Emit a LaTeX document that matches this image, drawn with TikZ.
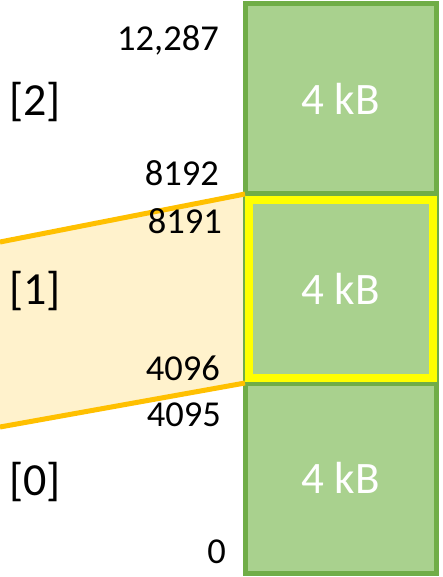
\documentclass[tikz,border=0pt]{standalone}
\usepackage{fontspec}
\setmainfont{Carlito}
\definecolor{gfill}{HTML}{A9D18E}
\definecolor{gline}{HTML}{70AD47}
\definecolor{ofill}{HTML}{FFF2CC}
\definecolor{oline}{HTML}{FFC000}
\definecolor{yline}{HTML}{FFFF00}
\begin{document}
\begin{tikzpicture}[x=1pt,y=-1pt,
  page/.style={draw=gline,fill=gfill,line width=5pt,minimum width=191pt,minimum height=190pt,inner sep=0pt,
    text=white,font=\fontsize{45}{54}\selectfont},
  addr/.style={anchor=east,inner sep=0pt,font=\fontsize{36.5}{44}\selectfont},
  idx/.style={inner sep=0pt,font=\fontsize{46}{55}\selectfont}]
\useasboundingbox (0,0) rectangle (442,577);
% mapped region
\coordinate (tl) at (0,242);
\coordinate (bl) at (0,427);
\coordinate (tr) at (245,194);
\coordinate (br) at (245,383);
\fill[ofill] (tl) -- (tr) -- (br) -- (bl) -- cycle;
% pages
\node[page] (p2) at (340.5,99) {4 kB};
\node[page] (p1) at (340.5,288.5) {4 kB};
\node[page] (p0) at (340.5,478) {4 kB};
% highlight
\draw[yline,line width=8pt] (249,200) rectangle (433,378);
% orange edges
\draw[oline,line width=5pt] (tl) -- (tr);
\draw[oline,line width=5pt] (bl) -- (br);
% addresses
\node[addr] (a12287) at (219,40) {12,287};
\node[addr] (a8192) at (219,173) {8192};
\node[addr] (a8191) at (222,221) {8191};
\node[addr] (a4096) at (220,368) {4096};
\node[addr] (a4095) at (221,415) {4095};
\node[addr] (a0) at (226,552) {0};
% indices
\node[idx] (i2) at (35,102) {[2]};
\node[idx] (i1) at (35,291) {[1]};
\node[idx] (i0) at (35,482) {[0]};
\end{tikzpicture}
\end{document}
